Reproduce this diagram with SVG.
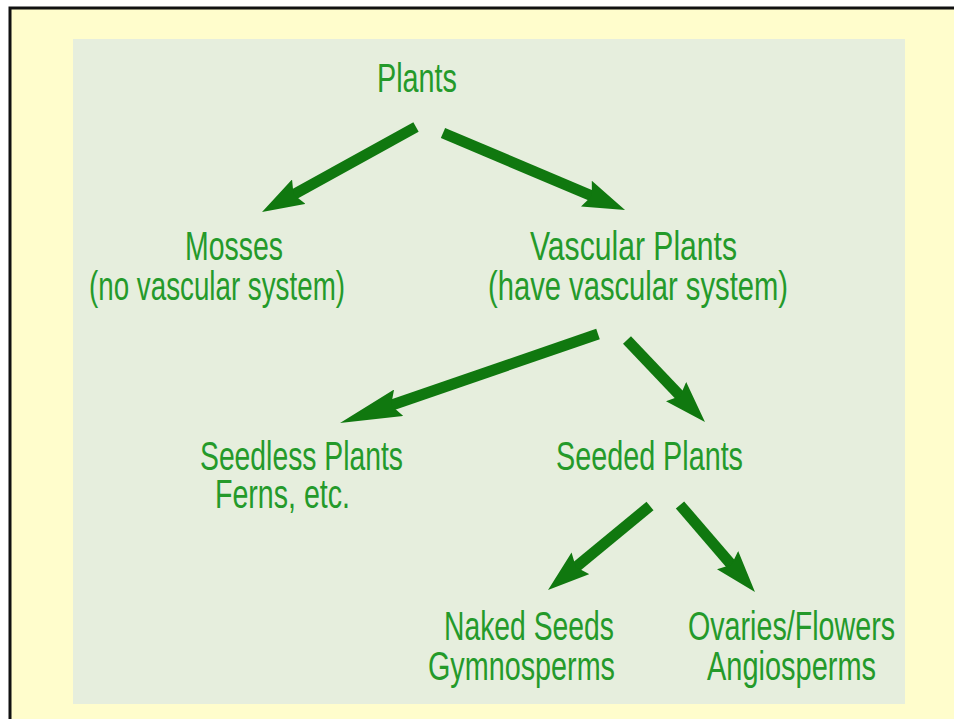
<svg xmlns="http://www.w3.org/2000/svg" width="954" height="719" viewBox="0 0 954 719">
<style>
.t{font-family:"Liberation Sans",Arial,sans-serif;font-size:41px;fill:#249A2A}
.a{stroke:#10780F;stroke-width:11;fill:none}
</style>
<defs>
<marker id="h" markerUnits="userSpaceOnUse" markerWidth="42" markerHeight="28" viewBox="0 0 42 28" refX="12" refY="14" orient="auto">
<path d="M0,0 L42,14 L0,28 L6,14 z" fill="#10780F"/>
</marker>
<marker id="hl" markerUnits="userSpaceOnUse" markerWidth="62" markerHeight="28" viewBox="0 0 62 28" refX="14" refY="14" orient="auto">
<path d="M0,0 L62,14 L0,28 L8,14 z" fill="#10780F"/>
</marker>
</defs>
<rect width="954" height="719" fill="#ffffff"/>
<rect x="9" y="7" width="945" height="712" fill="#FFFDCC"/>
<path d="M10,719 V8 H954" fill="none" stroke="#111" stroke-width="3"/>
<rect x="73" y="39" width="832" height="665" fill="#E6EEDD"/>
<g id="connectors">
<line class="a" x1="416" y1="127" x2="288.3" y2="197.5" marker-end="url(#h)"/>
<line class="a" x1="443" y1="133" x2="597.4" y2="198.3" marker-end="url(#h)"/>
<line class="a" x1="598" y1="334" x2="385.4" y2="407.3" marker-end="url(#hl)"/>
<line class="a" x1="627" y1="340" x2="684.3" y2="400.3" marker-end="url(#h)"/>
<line class="a" x1="650" y1="506" x2="571.2" y2="570.9" marker-end="url(#h)"/>
<line class="a" x1="680" y1="505" x2="735.4" y2="569.3" marker-end="url(#h)"/>
</g>
<g id="plants"><text class="t" x="377" y="92" textLength="80" lengthAdjust="spacingAndGlyphs">Plants</text></g>
<g id="mosses">
<text class="t" x="185" y="260" textLength="98" lengthAdjust="spacingAndGlyphs">Mosses</text>
<text class="t" x="89" y="300" textLength="256" lengthAdjust="spacingAndGlyphs">(no vascular system)</text>
</g>
<g id="vascular">
<text class="t" x="530" y="260" textLength="207" lengthAdjust="spacingAndGlyphs">Vascular Plants</text>
<text class="t" x="488" y="300" textLength="300" lengthAdjust="spacingAndGlyphs">(have vascular system)</text>
</g>
<g id="seedless">
<text class="t" x="200" y="470" textLength="203" lengthAdjust="spacingAndGlyphs">Seedless Plants</text>
<text class="t" x="215" y="508" textLength="135" lengthAdjust="spacingAndGlyphs">Ferns, etc.</text>
</g>
<g id="seeded"><text class="t" x="556" y="470" textLength="187" lengthAdjust="spacingAndGlyphs">Seeded Plants</text></g>
<g id="naked">
<text class="t" x="444" y="640" textLength="170" lengthAdjust="spacingAndGlyphs">Naked Seeds</text>
<text class="t" x="428" y="680" textLength="187" lengthAdjust="spacingAndGlyphs">Gymnosperms</text>
</g>
<g id="ovaries">
<text class="t" x="688" y="640" textLength="207" lengthAdjust="spacingAndGlyphs">Ovaries/Flowers</text>
<text class="t" x="707" y="680" textLength="169" lengthAdjust="spacingAndGlyphs">Angiosperms</text>
</g>
</svg>
